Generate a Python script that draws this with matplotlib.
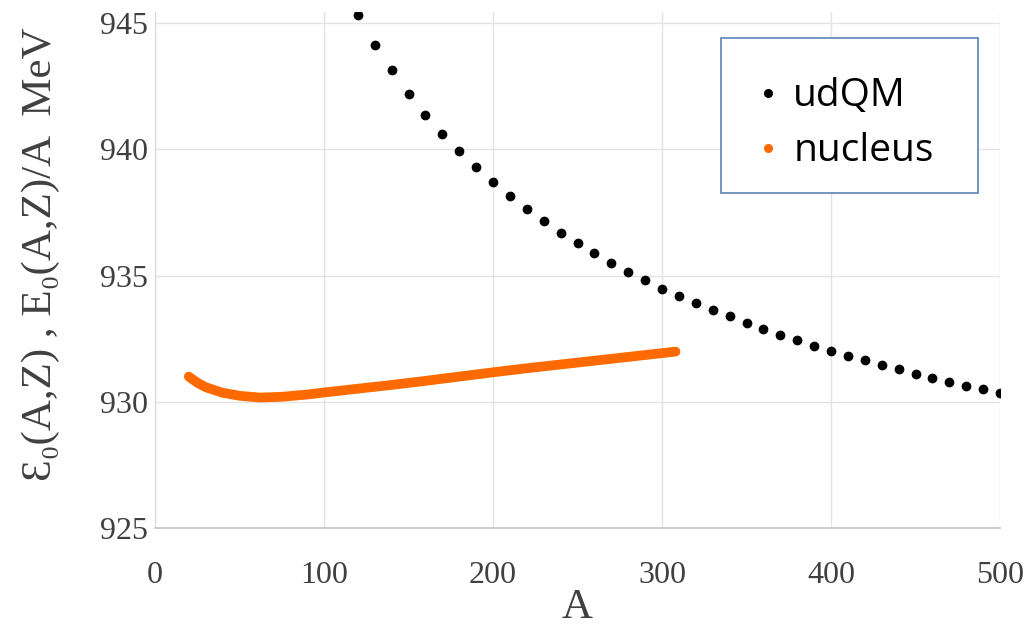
import numpy as np
import matplotlib.pyplot as plt
from matplotlib.patches import Rectangle

# udQM energy per baryon, every 10 in A
udqm_A = list(range(120, 501, 10))
udqm_E = [945.34, 944.15, 943.16, 942.21, 941.38, 940.63, 939.92, 939.29, 938.70, 938.15,
          937.63, 937.17, 936.69, 936.28, 935.89, 935.52, 935.15, 934.82, 934.49, 934.18,
          933.91, 933.65, 933.39, 933.12, 932.89, 932.65, 932.45, 932.20, 932.00, 931.81,
          931.65, 931.45, 931.29, 931.11, 930.95, 930.80, 930.63, 930.50, 930.34]

# nucleus binding curve
nuc_A = [20, 25, 30, 40, 50, 62, 75, 90, 100, 120, 140, 160, 180, 200, 220, 240, 260, 280, 300, 308]
nuc_E = [931.00, 930.76, 930.58, 930.36, 930.24, 930.17, 930.20, 930.29, 930.37, 930.52,
         930.67, 930.83, 931.00, 931.17, 931.33, 931.48, 931.63, 931.78, 931.93, 931.99]

xticks = [0, 100, 200, 300, 400, 500]
yticks = [925, 930, 935, 940, 945]

serif = ['Liberation Serif', 'DejaVu Serif']
tick_color = '#404040'
orange = '#ff6a00'

fig = plt.figure(figsize=(10.3, 6.26), dpi=100)
ax = fig.add_axes([0.1505, 0.1565, 0.8204, 0.8245])

ax.plot(nuc_A, nuc_E, color=orange, lw=7, solid_capstyle='round', zorder=3)
ax.plot(udqm_A, udqm_E, ls='none', marker='o', ms=6, color='black', zorder=4)

ax.set_xlim(0, 500)
ax.set_ylim(925, 945.45)
ax.set_xticks(xticks)
ax.set_yticks(yticks)
ax.grid(True, color='#e3e3e3', lw=1.0)
ax.set_axisbelow(True)
for s in ['top', 'right']:
    ax.spines[s].set_visible(False)
ax.spines['left'].set_color('#d9d9d9')
ax.spines['bottom'].set_color('#c8c8c8')
ax.spines['bottom'].set_linewidth(1.3)
ax.tick_params(length=0, labelcolor=tick_color)
ax.tick_params(axis='y', pad=5)
ax.tick_params(axis='x', pad=24)
for lab in ax.get_xticklabels() + ax.get_yticklabels():
    lab.set_family(serif)
    lab.set_fontsize(23)

ax.set_xlabel('A', family=serif, fontsize=31, color=tick_color)
ax.xaxis.set_label_coords(0.5, -0.118)
ax.set_ylabel('Ɛ₀(A,Z) , E₀(A,Z)/A  MeV', family=serif, fontsize=31, color=tick_color)
ax.yaxis.set_label_coords(-0.113, 0.53)

# legend box drawn separately, entries placed inside it
fig.patches.append(Rectangle((721 / 1030, 1 - 193 / 626), 257 / 1030, 155 / 626,
                             transform=fig.transFigure, facecolor='white',
                             edgecolor='#5b84b4', lw=1.2, zorder=5))
leg_handles = [plt.Line2D([], [], ls='none', marker='o', ms=5.5, color='black'),
               plt.Line2D([], [], ls='none', marker='o', ms=5.5, color=orange)]
leg = fig.legend(leg_handles, ['udQM', 'nucleus'], loc='upper left',
                 bbox_to_anchor=(729 / 1030, 1 - 58 / 626), prop={'family': 'Open Sans', 'size': 28},
                 frameon=False, borderpad=0, handletextpad=0.15, handlelength=1.0,
                 labelspacing=0.43)
leg.set_zorder(6)

fig.savefig('out.png', dpi=100)
